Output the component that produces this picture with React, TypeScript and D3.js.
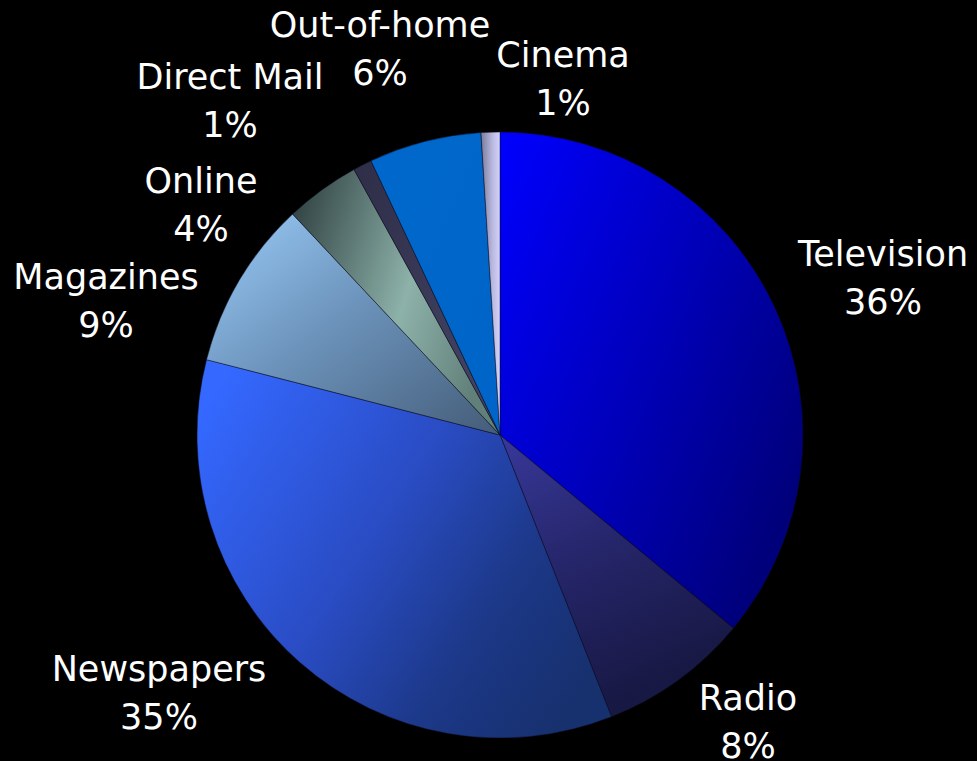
import React from "react";
import * as d3 from "d3";

const categories = ["Television", "Radio", "Newspapers", "Magazines", "Online", "Direct Mail", "Out-of-home", "Cinema"];
const shares = [36, 8, 35, 9, 4, 1, 6, 1];
const valueLabels = ["36%", "8%", "35%", "9%", "4%", "1%", "6%", "1%"];

const W = 977;
const H = 761;
const CX = 500;
const CY = 435;
const R = 303;

// label anchor positions (centre x, first-line baseline y)
const labelPos: [number, number][] = [
  [883, 266],
  [748, 710],
  [159, 681],
  [106, 289],
  [201, 193],
  [230, 89],
  [380, 37],
  [563, 67],
];

type Grad = { x1: number; y1: number; x2: number; y2: number; stops: [number, string][] };
const grads: Grad[] = [
  { x1: 0, y1: 0, x2: 1, y2: 0.7, stops: [[0, "#0000ff"], [0.55, "#0000b8"], [1, "#00007a"]] },
  { x1: 0, y1: 0, x2: 0.4, y2: 1, stops: [[0, "#38389a"], [0.5, "#25256a"], [1, "#181844"]] },
  { x1: 0, y1: 0.15, x2: 1, y2: 0.75, stops: [[0, "#3468ff"], [0.45, "#2a4cc4"], [0.75, "#1c3888"], [1, "#17306e"]] },
  { x1: 0, y1: 0, x2: 1, y2: 1, stops: [[0, "#9accf8"], [0.45, "#6d94bc"], [1, "#445c78"]] },
  { x1: 0, y1: 0.1, x2: 1, y2: 0.5, stops: [[0, "#2f4040"], [0.6, "#8db2aa"], [1, "#62807a"]] },
  { x1: 0, y1: 0, x2: 1, y2: 1, stops: [[0, "#2e2e48"], [1, "#454568"]] },
  { x1: 0, y1: 0, x2: 1, y2: 1, stops: [[0, "#0068cc"], [1, "#0064c8"]] },
  { x1: 0, y1: 0, x2: 1, y2: 0, stops: [[0, "#7a7a9c"], [0.6, "#b8b8e0"], [1, "#d4d4fa"]] },
];

export default function App() {
  const pie = d3.pie<number>().sort(null).value((d) => d);
  const arcs = pie(shares);
  const arcGen = d3.arc<d3.PieArcDatum<number>>().innerRadius(0).outerRadius(R);
  const fontFamily = "'DejaVu Sans', sans-serif";
  return (
    <svg
      width={W}
      height={H}
      style={{ position: "fixed", left: 0, top: 0, display: "block", background: "#000" }}
    >
      <defs>
        {grads.map((g, i) => (
          <linearGradient key={i} id={`g${i}`} x1={g.x1} y1={g.y1} x2={g.x2} y2={g.y2}>
            {g.stops.map(([o, c], j) => (
              <stop key={j} offset={o} stopColor={c} />
            ))}
          </linearGradient>
        ))}
      </defs>
      <rect x={0} y={0} width={W} height={H} fill="#000" />
      <g transform={`translate(${CX},${CY})`}>
        {arcs.map((a, i) => (
          <path
            key={categories[i]}
            d={arcGen(a) || ""}
            fill={`url(#g${i})`}
            stroke="rgba(10,10,30,0.6)"
            strokeWidth={0.8}
          />
        ))}
      </g>
      {categories.map((c, i) => (
        <text
          key={c}
          x={labelPos[i][0]}
          y={labelPos[i][1]}
          fill="#fff"
          fontFamily={fontFamily}
          fontSize={35}
          textAnchor="middle"
        >
          <tspan x={labelPos[i][0]}>{c}</tspan>
          <tspan x={labelPos[i][0]} dy={48}>
            {valueLabels[i]}
          </tspan>
        </text>
      ))}
    </svg>
  );
}
